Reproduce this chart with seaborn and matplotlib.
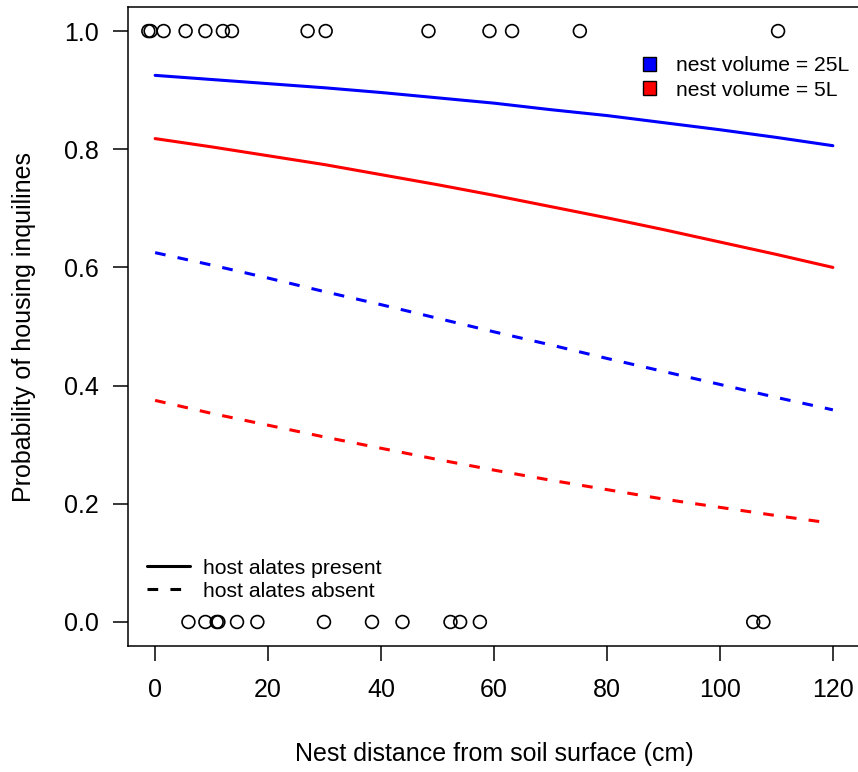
import matplotlib
matplotlib.use("Agg")
import matplotlib.pyplot as plt
from matplotlib.lines import Line2D
from matplotlib.patches import Patch
import seaborn as sns

# -----------------------------
# Data
# -----------------------------
dist = [0, 10, 20, 30, 40, 50, 60, 70, 80, 90, 100, 110, 120]
dist_red_absent = [0, 10, 20, 30, 40, 50, 60, 70, 80, 90, 100, 110, 117.6]

p_25L_present = [0.925, 0.918, 0.911, 0.904, 0.896, 0.887, 0.878, 0.867, 0.857, 0.845, 0.833, 0.820, 0.806]
p_5L_present = [0.818, 0.804, 0.789, 0.774, 0.757, 0.740, 0.722, 0.703, 0.684, 0.664, 0.643, 0.622, 0.600]
p_25L_absent = [0.625, 0.604, 0.582, 0.559, 0.537, 0.514, 0.491, 0.469, 0.446, 0.424, 0.402, 0.380, 0.359]
p_5L_absent = [0.375, 0.353, 0.333, 0.313, 0.294, 0.275, 0.257, 0.240, 0.224, 0.208, 0.194, 0.180, 0.170]

# observed nests (1 = inquilines, 0 = none)
obs_x_yes = [-1.2, -0.8, 1.5, 5.4, 8.9, 12.0, 13.6, 27.0, 30.2, 48.4, 59.2, 63.2, 75.2, 110.3]
obs_x_no = [5.9, 8.9, 10.9, 11.2, 14.5, 18.1, 29.9, 38.4, 43.8, 52.3, 54.0, 57.5, 105.9, 107.7]

# -----------------------------
# Figure setup
# -----------------------------
sns.set_style("ticks")
plt.rcParams["font.family"] = ["Liberation Sans", "DejaVu Sans"]
plt.rcParams["text.color"] = "black"
plt.rcParams["axes.labelcolor"] = "black"
plt.rcParams["xtick.color"] = "black"
plt.rcParams["ytick.color"] = "black"

fig = plt.figure(figsize=(8.58, 7.72), dpi=100)
ax = fig.add_axes([0.1492, 0.1637, 0.8531, 0.8267])

# observed points
sns.scatterplot(x=obs_x_yes, y=[1.0] * len(obs_x_yes), ax=ax, marker="o",
                facecolor="none", edgecolor="black", linewidth=1.2, s=85, zorder=3)
sns.scatterplot(x=obs_x_no, y=[0.0] * len(obs_x_no), ax=ax, marker="o",
                facecolor="none", edgecolor="black", linewidth=1.2, s=85, zorder=3)

# fitted curves
lw = 2.2
sns.lineplot(x=dist, y=p_25L_present, ax=ax, color="blue", linewidth=lw)
sns.lineplot(x=dist, y=p_5L_present, ax=ax, color="red", linewidth=lw)
sns.lineplot(x=dist, y=p_25L_absent, ax=ax, color="blue", linewidth=lw)
ax.lines[-1].set_dashes((3.5, 4))
sns.lineplot(x=dist_red_absent, y=p_5L_absent, ax=ax, color="red", linewidth=lw)
ax.lines[-1].set_dashes((3.5, 4))

# axes
ax.set_xlim(-4.8, 124.8)
ax.set_ylim(-0.04, 1.04)
ax.set_xticks([0, 20, 40, 60, 80, 100, 120])
ax.set_yticks([0.0, 0.2, 0.4, 0.6, 0.8, 1.0])
ax.set_yticklabels(["0.0", "0.2", "0.4", "0.6", "0.8", "1.0"])
ax.tick_params(axis="both", length=11, width=1.1, labelsize=18, color="black",
               labelcolor="black")
ax.tick_params(axis="x", pad=12)
ax.tick_params(axis="y", pad=10)
for sp in ax.spines.values():
    sp.set_visible(True)
    sp.set_linewidth(1.1)
    sp.set_color("black")

ax.set_xlabel("Nest distance from soil surface (cm)", fontsize=18, labelpad=29)
ax.set_ylabel("Probability of housing inquilines", fontsize=18, labelpad=20)

# legends
vol_handles = [Patch(facecolor="blue", edgecolor="black", linewidth=1.0),
               Patch(facecolor="red", edgecolor="black", linewidth=1.0)]
leg1 = fig.legend(vol_handles, ["nest volume = 25L", "nest volume = 5L"],
                  loc="center left", bbox_to_anchor=(0.749, 0.899), frameon=False,
                  fontsize=15.2, handlelength=0.62, handleheight=0.62,
                  handletextpad=0.95, labelspacing=0.25, borderpad=0, borderaxespad=0)

alate_handles = [Line2D([0], [0], color="black", linewidth=lw),
                 Line2D([0], [0], color="black", linewidth=lw, dashes=(3.5, 4))]
leg2 = fig.legend(alate_handles, ["host alates present", "host alates absent"],
                  loc="center left", bbox_to_anchor=(0.171, 0.249), frameon=False,
                  fontsize=15.2, handlelength=2.05, handletextpad=0.62,
                  labelspacing=0.2, borderpad=0, borderaxespad=0)

fig.savefig("out.png", dpi=100)
plt.close(fig)
